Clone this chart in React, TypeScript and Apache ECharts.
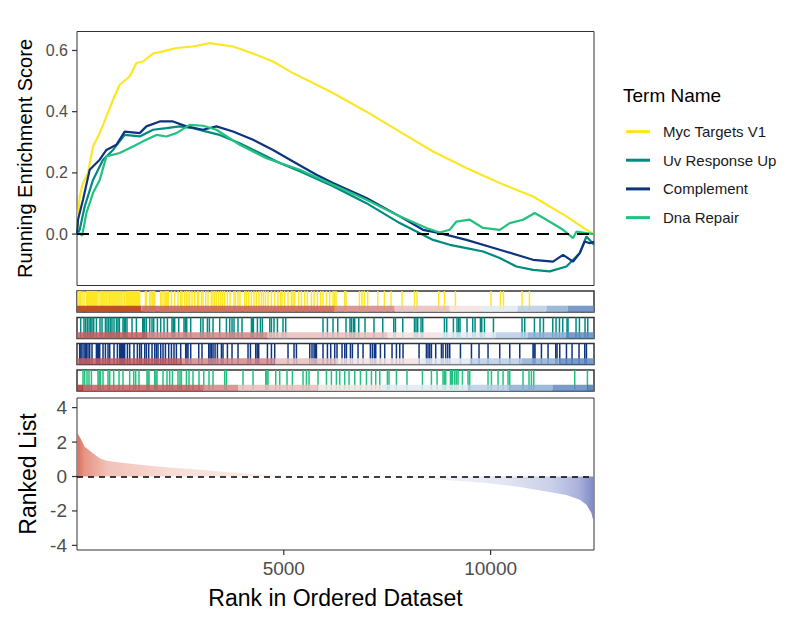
import React, { useEffect, useRef } from "react";
import * as echarts from "echarts";

const rankMax = 12500;
const termNames = ["Myc Targets V1", "Uv Response Up", "Complement", "Dna Repair"];
const termColors = ["#FDE725", "#008B80", "#0F347F", "#22C17F"];

// Running enrichment score curves (rank, score)
const mycRanks = [0, 30, 65, 145, 266, 387, 549, 711, 871, 1032, 1274, 1436, 1596, 1838, 2080, 2403, 2805, 3209, 3450, 3772, 4256, 4740, 5223, 5707, 6190, 6998, 7803, 8608, 9415, 10220, 11026, 11834, 12318, 12500];
const mycES = [0, 0.06, 0.123, 0.167, 0.2, 0.286, 0.33, 0.384, 0.439, 0.488, 0.515, 0.559, 0.564, 0.59, 0.597, 0.608, 0.613, 0.624, 0.619, 0.613, 0.59, 0.564, 0.526, 0.494, 0.461, 0.4, 0.335, 0.27, 0.216, 0.167, 0.123, 0.058, 0.014, 0.0];

const uvRanks = [0, 65, 186, 387, 629, 871, 1153, 1516, 1838, 2161, 2483, 2805, 3128, 3450, 3934, 4418, 4901, 5385, 6190, 6998, 7803, 8608, 9012, 9415, 9818, 10220, 10624, 11026, 11430, 11834, 12155, 12317, 12500];
const uvES = [0, 0.014, 0.09, 0.177, 0.243, 0.275, 0.324, 0.319, 0.341, 0.346, 0.352, 0.346, 0.335, 0.324, 0.297, 0.265, 0.232, 0.205, 0.156, 0.101, 0.036, -0.019, -0.035, -0.046, -0.057, -0.078, -0.106, -0.117, -0.122, -0.106, -0.062, -0.008, -0.035];

const compRanks = [0, 24, 145, 307, 549, 711, 952, 1153, 1516, 1678, 2000, 2321, 2645, 3047, 3371, 3772, 4256, 4740, 5223, 5789, 6190, 6998, 7803, 8366, 8770, 9415, 10220, 11026, 11510, 11752, 11994, 12155, 12276, 12400, 12500];
const compES = [0, 0.047, 0.112, 0.21, 0.243, 0.275, 0.292, 0.335, 0.33, 0.352, 0.368, 0.368, 0.352, 0.341, 0.352, 0.335, 0.308, 0.275, 0.237, 0.194, 0.167, 0.118, 0.058, 0.014, 0.003, -0.019, -0.051, -0.084, -0.09, -0.068, -0.09, -0.062, -0.024, -0.03, -0.025];

const dnaRanks = [0, 65, 126, 227, 387, 549, 711, 1032, 1354, 1596, 1920, 2161, 2403, 2725, 3047, 3371, 3934, 4580, 5385, 6190, 6998, 7803, 8448, 8770, 9012, 9174, 9495, 9817, 10221, 10463, 10784, 11067, 11350, 11752, 11994, 12075, 12317, 12500];
const dnaES = [0, 0.003, -0.005, 0.069, 0.134, 0.177, 0.254, 0.265, 0.286, 0.303, 0.324, 0.319, 0.33, 0.357, 0.354, 0.341, 0.292, 0.248, 0.21, 0.161, 0.112, 0.058, 0.02, 0.005, 0.014, 0.041, 0.047, 0.02, 0.014, 0.036, 0.047, 0.069, 0.047, 0.014, -0.013, 0.008, 0.003, 0.0];

// Gene-set hit positions (ranks)
const hitsMyc = [24, 58, 82, 121, 169, 227, 251, 275, 300, 324, 348, 372, 397, 421, 445, 476, 508, 556, 590, 605, 629, 653, 677, 711, 750, 782, 815, 846, 870, 895, 919, 943, 967, 991, 1016, 1040, 1074, 1112, 1153, 1194, 1218, 1243, 1267, 1291, 1315, 1340, 1364, 1388, 1412, 1436, 1461, 1485, 1516, 1654, 1678, 1758, 1791, 1823, 1855, 1879, 2024, 2055, 2104, 2138, 2162, 2186, 2211, 2283, 2362, 2442, 2507, 2539, 2604, 2645, 2684, 2725, 2781, 2846, 2911, 2943, 3008, 3047, 3112, 3168, 3250, 3289, 3330, 3371, 3426, 3475, 3523, 3571, 3637, 3700, 3796, 3830, 3893, 3941, 4055, 4096, 4152, 4217, 4280, 4338, 4401, 4459, 4507, 4556, 4618, 4701, 4780, 4860, 4925, 4957, 5022, 5102, 5184, 5223, 5264, 5361, 5426, 5506, 5571, 5668, 5731, 5813, 5893, 5948, 6031, 6110, 6190, 6224, 6263, 6473, 6504, 6829, 6891, 6949, 7029, 7271, 7433, 7593, 7859, 8159, 8221, 8746, 8884, 9150, 10011, 10238, 10310, 10760, 10939];
const hitsUv = [89, 169, 210, 251, 292, 331, 363, 404, 469, 556, 605, 687, 725, 767, 808, 846, 895, 953, 991, 1025, 1112, 1141, 1170, 1209, 1330, 1436, 1589, 1613, 1637, 1678, 1758, 1814, 1855, 1944, 2024, 2104, 2186, 2297, 2330, 2362, 2459, 2587, 2620, 2653, 2749, 2991, 3047, 3153, 3201, 3289, 3450, 3613, 3692, 3748, 3796, 3893, 3990, 4217, 4241, 4265, 4362, 4435, 4483, 4660, 4701, 4763, 4846, 4981, 5046, 5948, 6055, 6190, 6304, 6504, 6601, 6635, 6683, 6715, 6812, 6964, 7181, 7392, 7658, 7699, 7876, 8159, 8197, 8238, 8318, 8359, 8884, 8939, 9101, 9188, 9229, 9261, 9430, 9568, 9624, 9754, 9786, 9851, 10069, 10760, 10825, 11060, 11195, 11278, 11503, 11582, 11665, 11744, 11848, 11872, 12066, 12148, 12283, 12349];
const hitsComp = [65, 93, 121, 169, 198, 227, 266, 307, 363, 469, 497, 525, 549, 629, 687, 750, 791, 895, 977, 1032, 1056, 1081, 1105, 1129, 1153, 1219, 1274, 1378, 1460, 1516, 1557, 1637, 1678, 1734, 1814, 1879, 1920, 1959, 2024, 2080, 2138, 2217, 2283, 2345, 2403, 2507, 2628, 2656, 2684, 2749, 2943, 3022, 3185, 3217, 3250, 3289, 3338, 3395, 3492, 3530, 3637, 3748, 3893, 4135, 4193, 4321, 4357, 4393, 4604, 4701, 4780, 5102, 5247, 5305, 5627, 5682, 5731, 5760, 5789, 5948, 6055, 6134, 6231, 6287, 6408, 6473, 6514, 6611, 6659, 6795, 6916, 7094, 7143, 7191, 7223, 7336, 7440, 7617, 7723, 7803, 7883, 8270, 8448, 8487, 8528, 8569, 8673, 8811, 8850, 8915, 8964, 9012, 9271, 9537, 9720, 9938, 10221, 10463, 10705, 11026, 11050, 11074, 11229, 11389, 11575, 11606, 11672, 11834, 11969, 12138, 12276, 12317];
const hitsDna = [145, 186, 242, 290, 348, 508, 537, 566, 629, 750, 791, 887, 1016, 1112, 1274, 1371, 1419, 1499, 1693, 1717, 1741, 1879, 1907, 1934, 2080, 2176, 2241, 2307, 2442, 2490, 2524, 2645, 2708, 2805, 2950, 3064, 3192, 3289, 3571, 3613, 4014, 4256, 4563, 4590, 4618, 4805, 4901, 5078, 5208, 5465, 5547, 5610, 5827, 6031, 6151, 6272, 6352, 6473, 6577, 6715, 6853, 6998, 7119, 7223, 7320, 7505, 7544, 7723, 7979, 8352, 8569, 8705, 8850, 8882, 8915, 9029, 9053, 9077, 9133, 9173, 9213, 9319, 9454, 9495, 9938, 10020, 10180, 10301, 10422, 10463, 10784, 10929, 10987, 11043, 12034, 12341];

// Heat bar segments: rank breaks and palette index per segment
const heatPalette = ["#b5332b", "#c85d5f", "#d5868a", "#e9bdbd", "#f5e1e1", "#e3e9f2", "#bacde5", "#8daed5", "#6089c0", "#4677b3"];
const heatBreaksMyc = [0, 1557, 6231, 7682, 9012, 9778, 10656, 11350, 11865, 12500];
const heatIdxMyc = [0, 1, 2, 3, 4, 5, 6, 7, 8];
const heatBreaksUv = [0, 1709, 4611, 7513, 8770, 10124, 10898, 11817, 12500];
const heatIdxUv = [1, 2, 3, 4, 5, 6, 7, 8];
const heatBreaksComp = [0, 2539, 4780, 6255, 8286, 9495, 10746, 11672, 12500];
const heatIdxComp = [1, 2, 3, 4, 5, 6, 7, 8];
const heatBreaksDna = [0, 145, 3047, 3893, 5827, 7360, 9454, 10463, 11495, 12317, 12500];
const heatIdxDna = [0, 1, 2, 3, 4, 5, 6, 7, 8, 9];

// Ranked list metric
const rankedRanks = [1, 65, 106, 186, 266, 387, 549, 711, 1032, 1354, 1758, 2161, 2563, 2967, 3371, 3772, 4176, 4580, 4982, 5789, 6500, 7077, 8287, 9092, 9899, 10705, 11350, 11834, 12155, 12317, 12438, 12470, 12500];
const rankedValues = [2.54, 2.3, 2.12, 1.73, 1.58, 1.35, 1.06, 0.92, 0.81, 0.73, 0.62, 0.54, 0.46, 0.39, 0.31, 0.23, 0.16, 0.1, 0.06, 0.02, 0.0, -0.02, -0.12, -0.23, -0.38, -0.61, -0.87, -1.08, -1.35, -1.64, -2.12, -2.45, -2.55];

const esTicks = [0, 0.2, 0.4, 0.6];
const rankedTicks = [-4, -2, 0, 2, 4];
const xTicks = [5000, 10000];

const FONT = "Liberation Sans, Arial, sans-serif";
const ES_MIN = -0.168;
const ES_MAX = 0.662;
const RL_MIN = -4.27;
const RL_MAX = 4.56;

export default function App() {
  const ref = useRef<HTMLDivElement>(null);
  useEffect(() => {
    if (!ref.current) return;
    const chart = echarts.init(ref.current, undefined, { renderer: "svg" });

    const esRanks = [mycRanks, uvRanks, compRanks, dnaRanks];
    const esVals = [mycES, uvES, compES, dnaES];
    const hitLists = [hitsMyc, hitsUv, hitsComp, hitsDna];
    const heatBreaks = [heatBreaksMyc, heatBreaksUv, heatBreaksComp, heatBreaksDna];
    const heatIdx = [heatIdxMyc, heatIdxUv, heatIdxComp, heatIdxDna];

    const plotLeft = 77;
    const plotWidth = 517;
    const stripTops = [291, 317.5, 343.5, 370];
    const stripH = 21;

    const grids: any[] = [
      { left: plotLeft, top: 31.5, width: plotWidth, height: 254, show: true, borderColor: "#333333", borderWidth: 1 },
      ...stripTops.map((t) => ({ left: plotLeft, top: t, width: plotWidth, height: stripH, show: true, borderColor: "#333333", borderWidth: 1.5 })),
      { left: plotLeft, top: 398, width: plotWidth, height: 152, show: true, borderColor: "#333333", borderWidth: 1 },
    ];

    const xAxes: any[] = grids.map((_, gi) => {
      const base: any = { type: "value", gridIndex: gi, min: 0, max: rankMax, splitLine: { show: false } };
      if (gi === 5) {
        return {
          ...base,
          axisLine: { show: false, onZero: false },
          axisTick: { show: false },
          axisLabel: { show: true, color: "#4d4d4d", fontSize: 19, fontFamily: FONT, margin: 9, customValues: xTicks, formatter: (v: number) => String(v) },
          name: "Rank in Ordered Dataset",
          nameLocation: "middle",
          nameGap: 36,
          nameTextStyle: { color: "#000000", fontSize: 23, fontFamily: FONT },
        };
      }
      return { ...base, axisLine: { show: false, onZero: false }, axisTick: { show: false }, axisLabel: { show: false } };
    });

    const yAxes: any[] = grids.map((_, gi) => {
      if (gi === 0) {
        return {
          type: "value", gridIndex: 0, min: ES_MIN, max: ES_MAX, splitLine: { show: false },
          axisLine: { show: false, onZero: false },
          axisTick: { show: false },
          axisLabel: { show: true, color: "#4d4d4d", fontSize: 16, fontFamily: FONT, margin: 9, customValues: esTicks, formatter: (v: number) => v.toFixed(1) },
          name: "Running Enrichment Score",
          nameLocation: "middle",
          nameRotate: 90,
          nameGap: 38,
          nameTextStyle: { color: "#000000", fontSize: 20, fontFamily: FONT },
        };
      }
      if (gi === 5) {
        return {
          type: "value", gridIndex: 5, min: RL_MIN, max: RL_MAX, splitLine: { show: false },
          axisLine: { show: false, onZero: false },
          axisTick: { show: false },
          axisLabel: { show: true, color: "#4d4d4d", fontSize: 19, fontFamily: FONT, margin: 10, customValues: rankedTicks, formatter: (v: number) => String(v) },
          name: "Ranked List",
          nameLocation: "middle",
          nameRotate: 90,
          nameGap: 38,
          nameTextStyle: { color: "#000000", fontSize: 23, fontFamily: FONT },
        };
      }
      return { type: "value", gridIndex: gi, min: 0, max: 1, show: false, splitLine: { show: false } };
    });

    const series: any[] = [];

    termNames.forEach((name, i) => {
      const s: any = {
        type: "line",
        name,
        xAxisIndex: 0,
        yAxisIndex: 0,
        data: esRanks[i].map((r, k) => [r, esVals[i][k]]),
        showSymbol: false,
        symbol: "none",
        lineStyle: { color: termColors[i], width: 2.2 },
        itemStyle: { color: termColors[i] },
        color: termColors[i],
        z: 3,
        silent: true,
      };
      if (i === termNames.length - 1) {
        s.markLine = {
          silent: true,
          symbol: "none",
          label: { show: false },
          lineStyle: { color: "#000000", type: [12, 8], width: 2 },
          data: [{ yAxis: 0 }],
        };
      }
      series.push(s);
    });

    termNames.forEach((_, i) => {
      series.push({
        type: "custom",
        name: "hits" + i,
        xAxisIndex: i + 1,
        yAxisIndex: i + 1,
        data: hitLists[i].map((r) => [r, 1]),
        encode: { x: 0, y: 1 },
        silent: true,
        z: 2,
        renderItem: (params: any, api: any) => {
          const top = api.coord([api.value(0), 1]);
          const bot = api.coord([api.value(0), 0]);
          return {
            type: "rect",
            shape: { x: bot[0] - 0.75, y: top[1], width: 1.5, height: bot[1] - top[1] },
            style: { fill: termColors[i] },
          };
        },
      });
      const br = heatBreaks[i];
      series.push({
        type: "custom",
        name: "heat" + i,
        xAxisIndex: i + 1,
        yAxisIndex: i + 1,
        data: br.slice(0, -1).map((b, k) => [b, br[k + 1], heatIdx[i][k]]),
        encode: { x: [0, 1] },
        silent: true,
        z: 4,
        renderItem: (params: any, api: any) => {
          const a = api.coord([api.value(0), 0]);
          const b = api.coord([api.value(1), 0.3]);
          return {
            type: "rect",
            shape: { x: a[0], y: b[1], width: b[0] - a[0], height: a[1] - b[1] },
            style: { fill: heatPalette[api.value(2)], opacity: 0.85 },
          };
        },
      });
    });

    series.push({
      type: "line",
      name: "ranked",
      xAxisIndex: 5,
      yAxisIndex: 5,
      data: rankedRanks.map((r, k) => [r, rankedValues[k]]),
      showSymbol: false,
      symbol: "none",
      silent: true,
      lineStyle: { width: 0 },
      areaStyle: {
        opacity: 1,
        color: new echarts.graphic.LinearGradient(0, 0, 1, 0, [
          { offset: 0, color: "#d86f5e" },
          { offset: 0.015, color: "#e69585" },
          { offset: 0.06, color: "#f2c2b8" },
          { offset: 0.18, color: "#f8dcd6" },
          { offset: 0.4, color: "#fcf0ee" },
          { offset: 0.52, color: "#ffffff" },
          { offset: 0.68, color: "#f3f4fa" },
          { offset: 0.82, color: "#e3e6f3" },
          { offset: 0.92, color: "#c9cfe9" },
          { offset: 0.97, color: "#aab2dc" },
          { offset: 1, color: "#7d89c4" },
        ]),
      },
      markLine: {
        silent: true,
        symbol: "none",
        label: { show: false },
        lineStyle: { color: "#000000", type: [6, 5], width: 1.5 },
        data: [{ yAxis: 0 }],
      },
    });

    // Axis tick marks drawn through the axes' own scales
    const tickLen = 5;
    const tickStyle = { stroke: "#333333", lineWidth: 1.2 };
    series.push({
      type: "custom",
      name: "xticks",
      xAxisIndex: 5,
      yAxisIndex: 5,
      clip: false,
      silent: true,
      z: 10,
      data: xTicks.map((v) => [v, RL_MIN]),
      encode: { x: 0, y: 1 },
      renderItem: (params: any, api: any) => {
        const p = api.coord([api.value(0), RL_MIN]);
        return { type: "line", shape: { x1: p[0], y1: p[1], x2: p[0], y2: p[1] + tickLen }, style: tickStyle };
      },
    });
    series.push({
      type: "custom",
      name: "rlticks",
      xAxisIndex: 5,
      yAxisIndex: 5,
      clip: false,
      silent: true,
      z: 10,
      data: rankedTicks.map((v) => [0, v]),
      encode: { x: 0, y: 1 },
      renderItem: (params: any, api: any) => {
        const p = api.coord([0, api.value(1)]);
        return { type: "line", shape: { x1: p[0] - tickLen, y1: p[1], x2: p[0], y2: p[1] }, style: tickStyle };
      },
    });
    series.push({
      type: "custom",
      name: "esticks",
      xAxisIndex: 0,
      yAxisIndex: 0,
      clip: false,
      silent: true,
      z: 10,
      data: esTicks.map((v) => [0, v]),
      encode: { x: 0, y: 1 },
      renderItem: (params: any, api: any) => {
        const p = api.coord([0, api.value(1)]);
        return { type: "line", shape: { x1: p[0] - tickLen, y1: p[1], x2: p[0], y2: p[1] }, style: tickStyle };
      },
    });

    chart.setOption({
      animation: false,
      backgroundColor: "#ffffff",
      title: {
        text: "Term Name",
        left: 623,
        top: 86,
        padding: 0,
        textStyle: { fontSize: 19, fontWeight: "normal", color: "#000000", fontFamily: FONT },
      },
      legend: {
        data: termNames,
        orient: "vertical",
        left: 626,
        top: 124,
        padding: 0,
        icon: "rect",
        itemWidth: 24,
        itemHeight: 3,
        itemGap: 13.7,
        selectedMode: false,
        textStyle: { fontSize: 15, color: "#1a1a1a", fontFamily: FONT, padding: [0, 0, 0, 8] },
      },
      grid: grids,
      xAxis: xAxes,
      yAxis: yAxes,
      series,
    });

    return () => chart.dispose();
  }, []);

  return (
    <div
      ref={ref}
      style={{ position: "fixed", left: 0, top: 0, width: 801, height: 617, background: "#ffffff" }}
    />
  );
}
